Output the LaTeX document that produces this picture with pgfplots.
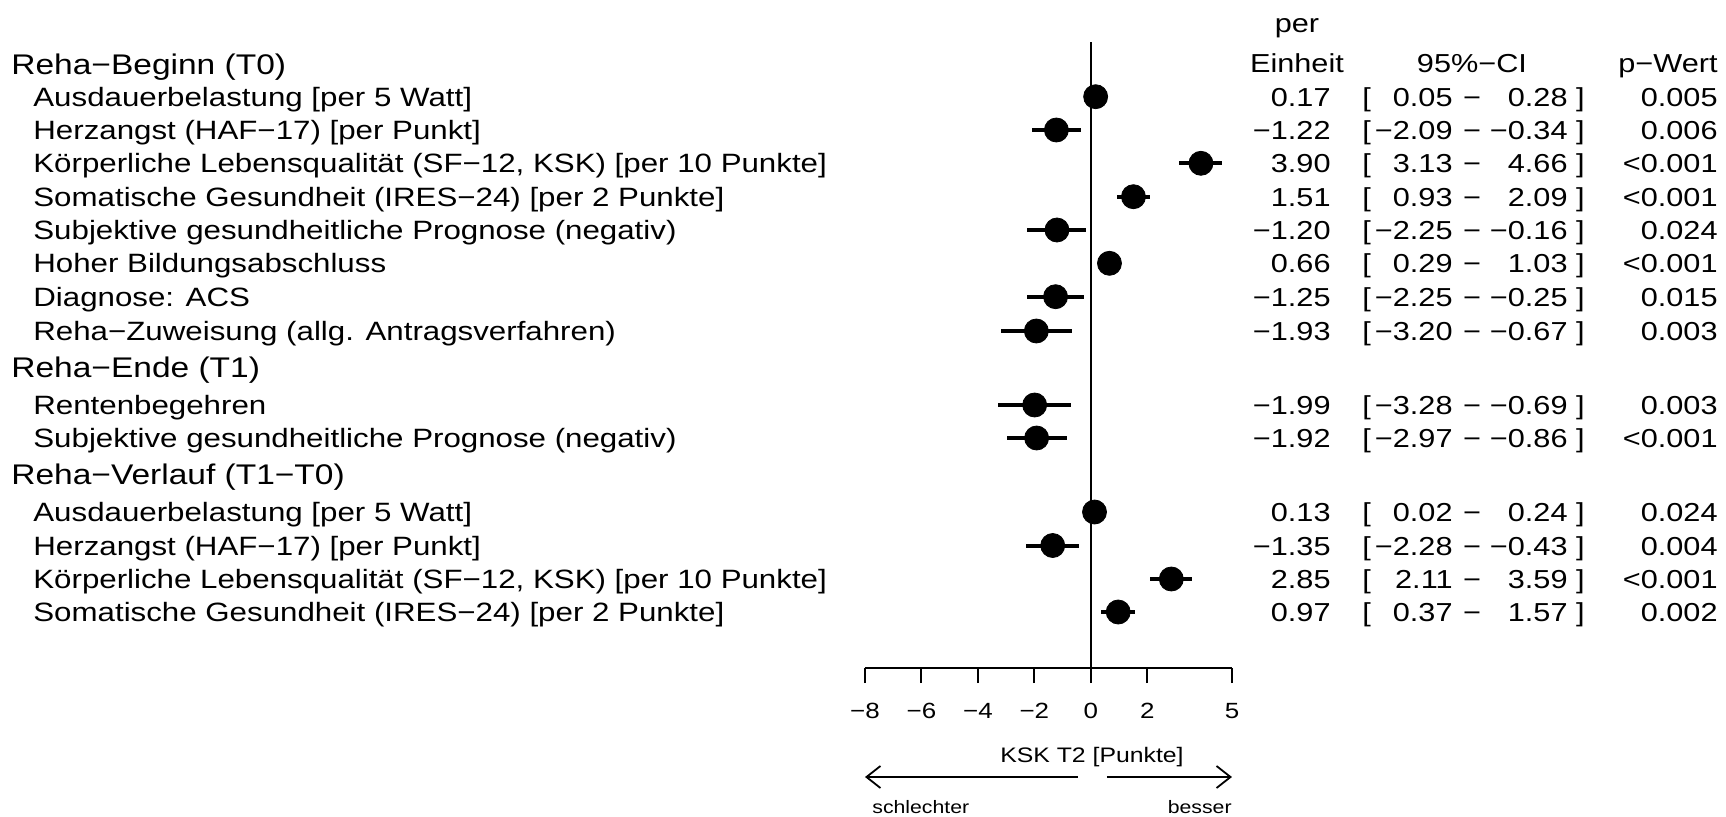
\documentclass[border=0pt]{standalone}
\usepackage{fontspec}
\setmainfont{Liberation Sans}[FakeStretch=1.18]
\usepackage{pgfplots}
\pgfplotsset{compat=1.18}
\usepackage{pgfplotstable}
\usetikzlibrary{arrows.meta}

% estimate, lower and upper 95%-CI, row position (pixels from top, negated)
\pgfplotstableread{
est   lo     hi     y
0.17  0.05   0.28   -96.7
-1.22 -2.09  -0.34  -130
3.90  3.13   4.66   -163.3
1.51  0.93   2.09   -196.7
-1.20 -2.25  -0.16  -230
0.66  0.29   1.03   -263.3
-1.25 -2.25  -0.25  -296.7
-1.93 -3.20  -0.67  -331
-1.99 -3.28  -0.69  -405
-1.92 -2.97  -0.86  -438
0.13  0.02   0.24   -512
-1.35 -2.28  -0.43  -545.5
2.85  2.11   3.59   -579
0.97  0.37   1.57   -612
}\forestdata

\newcommand\fs[1]{\fontsize{#1}{#1}\selectfont}
\newcommand\lab[3]{\node[anchor=base west, inner sep=0pt, font=\fs{13.25}] at (#1,#2+9.5) {#3};}
\newcommand\hd[2]{\node[anchor=base west, inner sep=0pt, font=\fs{14.2}] at (11,#1+9.5) {#2};}
\newcommand\trow[5]{%
 \node[anchor=base east, inner sep=0pt, font=\fs{13}] at (1331,#1+9.5) {#2};
 \node[anchor=base west, inner sep=0pt, font=\fs{13}] at (1362,#1+9.5) {[};
 \node[anchor=base east, inner sep=0pt, font=\fs{13}] at (1453,#1+9.5) {#3};
 \node[anchor=base, inner sep=0pt, font=\fs{13}] at (1472,#1+9.5) {−};
 \node[anchor=base east, inner sep=0pt, font=\fs{13}] at (1568,#1+9.5) {#4};
 \node[anchor=base east, inner sep=0pt, font=\fs{13}] at (1585,#1+9.5) {]};
 \node[anchor=base east, inner sep=0pt, font=\fs{13}] at (1718,#1+9.5) {#5};
}

\begin{document}
\begin{tikzpicture}
\begin{axis}[
  scale only axis, width=183.5pt, height=313pt,
  xmin=-8, xmax=5, ymin=-668, ymax=-42,
  axis x line*=bottom, axis y line=none,
  xtick={-8,-6,-4,-2,0,2,5},
  xticklabels={−8,−6,−4,−2,0,2,5},
  tick align=outside, major tick length=7.5pt,
  every tick/.style={black, line width=1pt},
  axis line style={black, line width=1pt},
  xticklabel style={font=\fs{11}, anchor=base, yshift=-17.5pt},
  clip=false,
]
\addplot[black, line width=1pt] coordinates {(0,-668) (0,-42)};
\addplot[only marks, mark=*, mark size=6pt, black,
  error bars/.cd, x dir=both, x explicit, error mark=none,
  error bar style={line width=2pt, black}]
  table[x=est, y=y,
        x error plus expr=\thisrow{hi}-\thisrow{est},
        x error minus expr=\thisrow{est}-\thisrow{lo}] {\forestdata};
\end{axis}
\pgfresetboundingbox
\begin{scope}[shift={(-432.5pt,334pt)}, x=0.5pt, y=-0.5pt]
\path[use as bounding box] (0,0) rectangle (1726,816);
% left labels
\hd{65}{Reha−Beginn (T0)}
\lab{33}{96.7}{Ausdauerbelastung [per 5 Watt]}
\lab{33}{130}{Herzangst (HAF−17) [per Punkt]}
\lab{33}{163.3}{Körperliche Lebensqualität (SF−12, KSK) [per 10 Punkte]}
\lab{33}{196.7}{Somatische Gesundheit (IRES−24) [per 2 Punkte]}
\lab{33}{230}{Subjektive gesundheitliche Prognose (negativ)}
\lab{33}{263.3}{Hoher Bildungsabschluss}
\lab{33}{296.7}{Diagnose: ACS}
\lab{33}{331}{Reha−Zuweisung (allg. Antragsverfahren)}
\hd{368}{Reha−Ende (T1)}
\lab{33}{405}{Rentenbegehren}
\lab{33}{438}{Subjektive gesundheitliche Prognose (negativ)}
\hd{475}{Reha−Verlauf (T1−T0)}
\lab{33}{512}{Ausdauerbelastung [per 5 Watt]}
\lab{33}{545.5}{Herzangst (HAF−17) [per Punkt]}
\lab{33}{579}{Körperliche Lebensqualität (SF−12, KSK) [per 10 Punkte]}
\lab{33}{612}{Somatische Gesundheit (IRES−24) [per 2 Punkte]}
% table header
\node[anchor=base, inner sep=0pt, font=\fs{13}] at (1297,33) {per};
\node[anchor=base, inner sep=0pt, font=\fs{13}] at (1297,72) {Einheit};
\node[anchor=base, inner sep=0pt, font=\fs{13}] at (1472,72) {95\%−CI};
\node[anchor=base east, inner sep=0pt, font=\fs{13}] at (1718,72) {p−Wert};
% table rows
\trow{96.7}{0.17}{0.05}{0.28}{0.005}
\trow{130}{−1.22}{−2.09}{−0.34}{0.006}
\trow{163.3}{3.90}{3.13}{4.66}{<0.001}
\trow{196.7}{1.51}{0.93}{2.09}{<0.001}
\trow{230}{−1.20}{−2.25}{−0.16}{0.024}
\trow{263.3}{0.66}{0.29}{1.03}{<0.001}
\trow{296.7}{−1.25}{−2.25}{−0.25}{0.015}
\trow{331}{−1.93}{−3.20}{−0.67}{0.003}
\trow{405}{−1.99}{−3.28}{−0.69}{0.003}
\trow{438}{−1.92}{−2.97}{−0.86}{<0.001}
\trow{512}{0.13}{0.02}{0.24}{0.024}
\trow{545.5}{−1.35}{−2.28}{−0.43}{0.004}
\trow{579}{2.85}{2.11}{3.59}{<0.001}
\trow{612}{0.97}{0.37}{1.57}{0.002}
% axis title and direction arrows
\node[anchor=base, inner sep=0pt, font=\fs{10.5}] at (1092,762) {KSK T2 [Punkte]};
\draw[line width=0.9pt, -{Straight Barb[length=7pt, width=11pt]}] (1078,777) -- (865,777);
\draw[line width=0.9pt, -{Straight Barb[length=7pt, width=11pt]}] (1107,777) -- (1232,777);
\node[anchor=base west, inner sep=0pt, font=\fs{9}] at (872,813) {schlechter};
\node[anchor=base east, inner sep=0pt, font=\fs{9}] at (1232,813) {besser};
\end{scope}
\end{tikzpicture}
\end{document}
